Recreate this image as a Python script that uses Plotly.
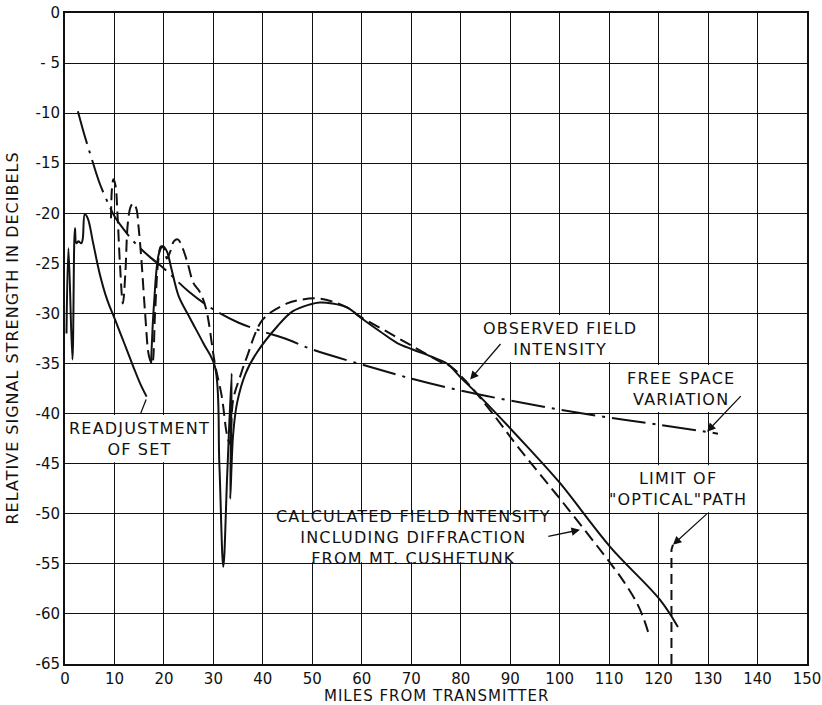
import plotly.graph_objects as go

# ---------------- data ----------------
# Free space variation (dash-dot)
free_x = [2.6, 4, 5.3, 7, 8.9, 10, 12.5, 15, 17.5, 20, 25, 30, 35, 40, 45, 50, 60, 70, 80, 90, 100, 110, 120, 132]
free_y = [-9.8, -12.3, -14.4, -17, -19.2, -20.3, -22, -23.4, -24.5, -25.5, -27.8, -29.6, -30.9, -31.8, -32.6, -33.6,
          -35.1, -36.5, -37.7, -38.7, -39.6, -40.4, -41.1, -42]

# Observed field intensity, before readjustment of set
obs1_x = [0.3, 0.7, 1.5, 2.0, 2.3, 2.7, 3.3, 3.6, 4.0, 4.6, 5.7, 7.0, 8.5, 10.1, 12.0, 13.8, 15.2, 16.5]
obs1_y = [-32, -23.5, -34.6, -21.5, -23, -22.8, -23, -22.5, -20.1, -20.5, -23, -26, -28.6, -30.6, -33, -35.3, -37, -38.3]

# Observed field intensity, after readjustment of set
obs2_x = [17.4, 18.0, 19.0, 19.8, 20.6, 21.5, 23.0, 25.3, 28.0, 30.3, 31.2, 32.0, 32.8, 33.7, 33.4, 34.0, 34.8, 36.5,
          38.8, 42.9, 46, 49.5, 51.5, 54, 57, 60, 63.7, 67, 70.3, 74, 77.2, 80, 83.9, 94, 100, 110.2, 120.3, 123.9]
obs2_y = [-35, -29, -24, -23.3, -23.8, -25.5, -28.3, -30.5, -33, -35.3, -45, -55.3, -46, -36, -48.5, -42, -38.9, -36,
          -33.9, -31.3, -29.8, -29.1, -28.9, -29, -29.4, -30.5, -31.8, -32.9, -33.6, -34.3, -35.0, -36.4, -38.3, -43.6,
          -46.9, -53.3, -58.6, -61.3]

# Calculated field intensity including diffraction (dashed)
calc_x = [9.3, 9.5, 9.8, 10.2, 10.6, 11.1, 11.7, 12.2, 12.7, 13.3, 13.8, 14.4, 14.9, 15.5, 16.2, 17.0, 17.6, 18.2,
          18.8, 19.4, 20.0, 20.6, 21.3, 22.0, 22.8, 23.8, 24.8, 26.0, 27.2, 28.5, 30.3, 31.7, 32.7, 33.3, 34.0, 35.4,
          36.8, 40.0, 44.9, 48, 51, 54, 57, 59.6, 65, 70, 75.8, 78, 81.3, 86, 92, 100.7, 110.2, 113, 115.6, 117, 118]
calc_y = [-20.5, -17.5, -16.6, -17.2, -20, -25, -29, -26, -21, -19.3, -19, -19.5, -21.5, -25, -30, -34.3, -35, -30,
          -25, -23.3, -23.5, -24.5, -23.8, -22.8, -22.6, -23.5, -25, -27, -27.8, -29.5, -35, -38.3, -42, -43, -38.6,
          -36.3, -34.3, -30.6, -29, -28.6, -28.5, -28.8, -29.4, -30.3, -31.8, -33.2, -34.8, -35.3, -36.9, -39.7,
          -43.6, -48.9, -54.9, -56.8, -58.9, -60.5, -62]

# Limit of "optical" path
limit_x = [122.6, 122.6, 122.9]
limit_y = [-65, -53.6, -53.1]

x_ticks = list(range(0, 151, 10))
y_ticks = list(range(0, -66, -5))
y_tick_text = ["0"] + ["- %d" % abs(v) if abs(v) < 10 else "-%d" % abs(v) for v in y_ticks[1:]]

FONT = "DejaVu Sans"
INK = "#111111"
FS = 16
TFS = 15


def spaced(text, ls=1.2):
    return "<br>".join('<span style="letter-spacing:%.1fpx">%s</span>' % (ls, line) for line in text.split("\n"))


fig = go.Figure()

fig.add_trace(go.Scatter(x=free_x, y=free_y, mode="lines", line=dict(color=INK, width=2, dash="34px,7px,3px,7px"),
                         line_shape="spline", showlegend=False))
fig.add_trace(go.Scatter(x=calc_x, y=calc_y, mode="lines", line=dict(color=INK, width=2, dash="12px,6px"),
                         line_shape="spline", showlegend=False))
fig.add_trace(go.Scatter(x=obs1_x, y=obs1_y, mode="lines", line=dict(color=INK, width=2),
                         line_shape="spline", showlegend=False))
fig.add_trace(go.Scatter(x=obs2_x, y=obs2_y, mode="lines", line=dict(color=INK, width=2),
                         line_shape="spline", showlegend=False))
fig.add_trace(go.Scatter(x=limit_x, y=limit_y, mode="lines", line=dict(color=INK, width=2, dash="10px,6px"),
                         showlegend=False))

# white label boxes (between grid lines)
boxes = [(0.3, 29.7, -40.15, -44.85), (80.3, 119.7, -30.15, -34.85), (110.3, 139.7, -35.15, -39.85),
         (110.3, 139.7, -45.15, -49.85), (40.3, 99.7, -50.15, -54.85)]
for x0, x1, y0, y1 in boxes:
    fig.add_shape(type="rect", x0=x0, x1=x1, y0=y0, y1=y1, fillcolor="white", line=dict(width=0), layer="above")

tf = dict(family=FONT, size=FS, color=INK)
labels = [
    (15.0, -42.5, "READJUSTMENT\nOF SET"),
    (100.0, -32.5, "OBSERVED FIELD\nINTENSITY"),
    (124.5, -37.5, "FREE SPACE\nVARIATION"),
    (124.0, -47.5, "LIMIT OF\n\"OPTICAL\"PATH"),
    (70.5, -52.4, "CALCULATED FIELD INTENSITY\nINCLUDING DIFFRACTION\nFROM MT. CUSHETUNK"),
]
for x, y, t in labels:
    fig.add_annotation(x=x, y=y, text=spaced(t), showarrow=False, font=tf, xref="x", yref="y")

arrows = [
    (81.9, -36.6, 88.3, -32.9),
    (129.8, -41.8, 136.9, -38.1),
    (122.9, -53.1, 130.0, -49.9),
    (104.1, -51.6, 97.4, -52.3),
]
for hx, hy, tx, ty in arrows:
    fig.add_annotation(x=hx, y=hy, ax=tx, ay=ty, xref="x", yref="y", axref="x", ayref="y", text="",
                       showarrow=True, arrowhead=2, arrowsize=1.3, arrowwidth=1.3, arrowcolor=INK)
fig.add_annotation(x=16.4, y=-38.6, ax=15.2, ay=-40.1, xref="x", yref="y", axref="x", ayref="y", text="",
                   showarrow=True, arrowhead=0, arrowwidth=1.3, arrowcolor=INK)

fig.add_annotation(text=spaced("RELATIVE SIGNAL STRENGTH IN DECIBELS", 1.0), xref="paper", yref="paper", x=0, y=0.5,
                   xshift=-53, xanchor="center", yanchor="middle", textangle=-90, showarrow=False,
                   font=dict(family=FONT, size=FS, color=INK))
fig.add_annotation(text=spaced("MILES FROM TRANSMITTER", 1.0), xref="paper", yref="paper", x=0.5, y=0, yshift=-32,
                   xanchor="center", yanchor="middle", showarrow=False, font=dict(family=FONT, size=15, color=INK))

fig.update_xaxes(range=[0, 150], tickvals=x_ticks, showgrid=True, gridcolor=INK, gridwidth=1.3,
                 showline=True, linecolor=INK, linewidth=2, mirror=True, zeroline=False, ticks="",
                 automargin=False, ticklabeloverflow="allow", ticklabelstandoff=0,
                 tickfont=dict(family=FONT, size=TFS, color=INK))
fig.update_yaxes(range=[-65, 0], tickvals=y_ticks, ticktext=y_tick_text, showgrid=True, gridcolor=INK,
                 gridwidth=1.3, showline=True, linecolor=INK, linewidth=2, mirror=True, zeroline=False, ticks="",
                 automargin=False, ticklabeloverflow="allow", tickfont=dict(family=FONT, size=TFS, color=INK))

fig.update_layout(width=822, height=705, margin=dict(l=65, r=15, t=13, b=41), paper_bgcolor="white",
                  plot_bgcolor="white", showlegend=False)

fig.write_html("out.html", config={"displayModeBar": False},
               post_script="document.body.style.margin='0';document.body.style.overflow='hidden';")
